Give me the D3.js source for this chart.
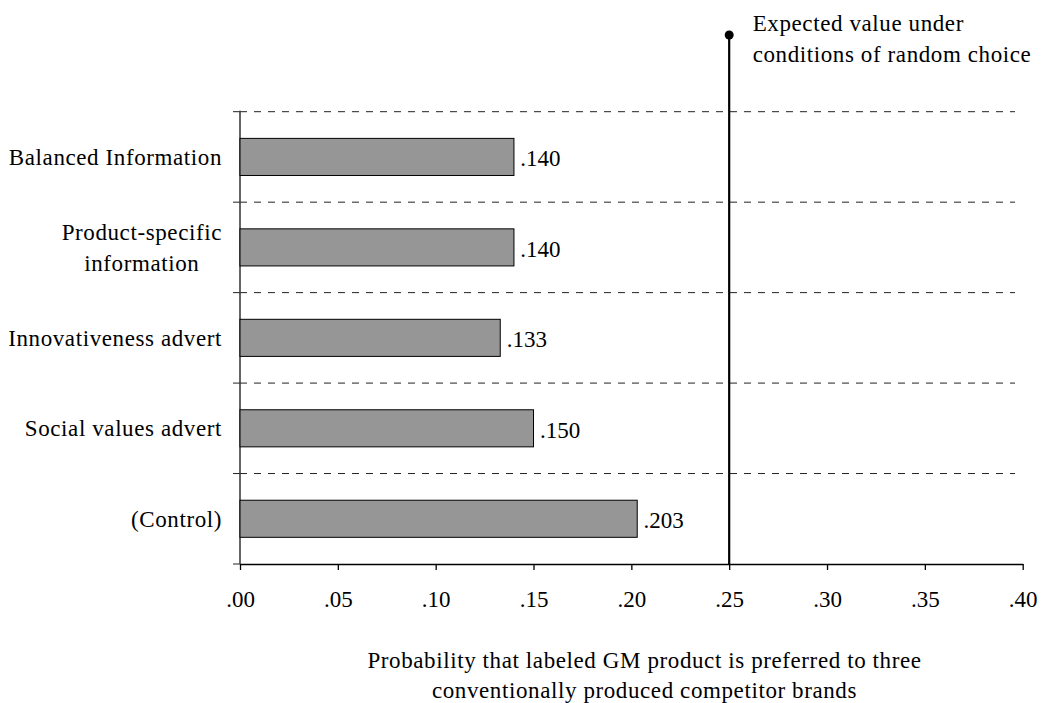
<!DOCTYPE html>
<html><head><meta charset="utf-8">
<script src="https://cdn.jsdelivr.net/npm/d3@7"></script>
<style>body{margin:0;background:#fff}svg{display:block}text{font-family:"Liberation Serif","Times New Roman",serif;fill:#000}</style>
</head><body><svg id="c" width="1043" height="703"></svg>
<script>
const categories = ["Balanced Information", "Product-specific\ninformation", "Innovativeness advert", "Social values advert", "(Control)"];
const values = [0.140, 0.140, 0.133, 0.150, 0.203];
const valueLabels = [".140", ".140", ".133", ".150", ".203"];
const xTicks = [0, 0.05, 0.10, 0.15, 0.20, 0.25, 0.30, 0.35, 0.40];
const xTickLabels = [".00", ".05", ".10", ".15", ".20", ".25", ".30", ".35", ".40"];
const expectedValue = 0.25;
const expectedLabel = ["Expected value under", "conditions of random choice"];
const axisTitle = ["Probability that labeled GM product is preferred to three", "conventionally produced competitor brands"];

const svg = d3.select("#c");
const FS = 23;
const LS = "0.6px";
const x = d3.scaleLinear().domain([0, 0.40]).range([240, 1022.7]);
const y = d3.scaleBand().domain(categories).range([111.7, 564]).paddingInner(0.59).paddingOuter(0.295);
const step = y.step();
const y0 = 111.7, yB = 564;

// dashed separators
const seps = d3.range(categories.length).map(i => y0 + i * step);
svg.selectAll("line.sep").data(seps).enter().append("line")
  .attr("x1", 240).attr("x2", 1015).attr("y1", d => d).attr("y2", d => d)
  .attr("stroke", "#222").attr("stroke-width", 1).attr("stroke-dasharray", "7,7");
// left ticks
svg.selectAll("line.lt").data(seps.concat([yB])).enter().append("line")
  .attr("x1", 233).attr("x2", 240).attr("y1", d => d).attr("y2", d => d)
  .attr("stroke", "#222").attr("stroke-width", 1);
// left axis line
svg.append("line").attr("x1", 240).attr("x2", 240).attr("y1", y0 - 1).attr("y2", yB)
  .attr("stroke", "#333").attr("stroke-width", 1.5);

// bars
svg.selectAll("rect.bar").data(categories).enter().append("rect")
  .attr("x", x(0)).attr("y", d => y(d)).attr("width", (d, i) => x(values[i]) - x(0))
  .attr("height", y.bandwidth()).attr("fill", "#969696").attr("stroke", "#000").attr("stroke-width", 1);

// value labels
svg.selectAll("text.val").data(categories).enter().append("text")
  .attr("x", (d, i) => x(values[i]) + 6.4).attr("y", d => y(d) + y.bandwidth() / 2 + 9.5)
  .attr("font-size", FS).text((d, i) => valueLabels[i]);

// category labels
categories.forEach(c => {
  const lines = c.split("\n");
  const cy = y(c) + y.bandwidth() / 2;
  const lh = 30.3;
  const t = svg.append("text").attr("font-size", FS).attr("letter-spacing", LS).attr("text-anchor", "middle");
  const ts = lines.map((l, j) => t.append("tspan").attr("y", cy + 8 + (j - (lines.length - 1) / 2) * lh).text(l));
  const maxW = d3.max(ts, s => s.node().getComputedTextLength());
  ts.forEach(s => s.attr("x", 222 - maxW / 2));
});

// bottom axis
const xAxis = d3.axisBottom(x).tickValues(xTicks).tickSize(6).tickSizeOuter(0)
  .tickFormat((d, i) => xTickLabels[i]);
const g = svg.append("g").attr("transform", `translate(0,${yB})`).call(xAxis);
g.select(".domain").attr("stroke", "#000").attr("stroke-width", 1.3);
g.selectAll(".tick line").attr("stroke", "#000").attr("stroke-width", 1.3);
g.selectAll(".tick text").attr("font-size", FS).attr("font-family", '"Liberation Serif","Times New Roman",serif')
  .attr("fill", "#000").attr("dy", null).attr("y", 43);

// expected value line
svg.append("line").attr("x1", x(expectedValue)).attr("x2", x(expectedValue)).attr("y1", 35).attr("y2", yB)
  .attr("stroke", "#000").attr("stroke-width", 2.2);
svg.append("circle").attr("cx", x(expectedValue)).attr("cy", 35).attr("r", 4.5).attr("fill", "#000");
svg.append("text").attr("font-size", FS).attr("letter-spacing", LS).selectAll("tspan").data(expectedLabel).enter().append("tspan")
  .attr("x", 752.7).attr("y", (d, i) => 30.7 + i * 31.3).text(d => d);

// axis title
svg.append("text").attr("font-size", FS).attr("letter-spacing", LS).attr("text-anchor", "middle").selectAll("tspan").data(axisTitle).enter().append("tspan")
  .attr("x", 644.5).attr("y", (d, i) => 668 + i * 30).text(d => d);
</script></body></html>
